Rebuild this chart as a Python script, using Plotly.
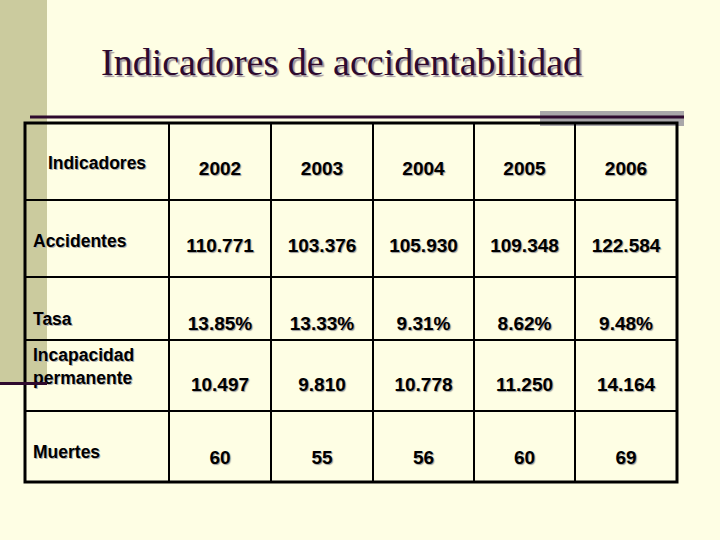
import plotly.graph_objects as go

# ---- data ----
years = ["2002", "2003", "2004", "2005", "2006"]
indicators = ["Accidentes", "Tasa", "Incapacidad<br>permanente", "Muertes"]
accidentes = [110771, 103376, 105930, 109348, 122584]
tasa = [13.85, 13.33, 9.31, 8.62, 9.48]
incapacidad = [10497, 9810, 10778, 11250, 14164]
muertes = [60, 55, 56, 60, 69]
header_label = "Indicadores"
title = "Indicadores de accidentabilidad"

def thousands(v):
    return f"{v:,}".replace(",", ".")

rows_text = [
    [thousands(v) for v in accidentes],
    [f"{v:.2f}%" for v in tasa],
    [thousands(v) for v in incapacidad],
    [str(v) for v in muertes],
]

# ---- layout (pixel space) ----
W, H = 720, 540
BG = "#FEFEE4"
KHAKI = "#CBCB9E"
PURPLE = "#2E0A2E"
col_edges = [25, 169, 271, 373, 474, 575, 677]
row_edges = [123, 200, 277, 340, 411, 482]
header_val_y = 170
header_lab_y = 165
row_val_y = [247, 325, 386, 459]
row_lab_y = [243, 321, 368, 454]
label_x = 33

col_centers = [(col_edges[i] + col_edges[i + 1]) / 2 for i in range(len(col_edges) - 1)]

fig = go.Figure()

val_font = dict(family="Liberation Sans, Arial", size=19, color="#000000",
                weight="bold", shadow="1px 1px 1px #9a9a9a")
lab_font = dict(family="Liberation Sans, Arial", size=17.5, color="#000000",
                weight="bold", shadow="1px 1px 0px #b0b0b0")

# header years
fig.add_trace(go.Scatter(
    x=col_centers[1:], y=[header_val_y] * len(years), mode="text",
    text=years, textposition="middle center", textfont=val_font,
    hoverinfo="skip", showlegend=False))
# header label
fig.add_trace(go.Scatter(
    x=[col_centers[0]], y=[header_lab_y], mode="text",
    text=[header_label], textposition="middle center", textfont=lab_font,
    hoverinfo="skip", showlegend=False))
# row labels
fig.add_trace(go.Scatter(
    x=[label_x] * len(indicators), y=row_lab_y, mode="text",
    text=indicators, textposition="middle right",
    textfont=lab_font, hoverinfo="skip", showlegend=False))
# values
for r, vals in enumerate(rows_text):
    fig.add_trace(go.Scatter(
        x=col_centers[1:], y=[row_val_y[r]] * len(vals), mode="text",
        text=vals, textposition="middle center", textfont=val_font,
        hoverinfo="skip", showlegend=False))

shapes = []
# khaki side bar
shapes.append(dict(type="rect", x0=0, x1=47, y0=0, y1=382, fillcolor=KHAKI,
                   line=dict(width=0), layer="below"))
# grey block at top right
shapes.append(dict(type="rect", x0=540, x1=684, y0=111, y1=126, fillcolor="#A9A7A9",
                   line=dict(width=0), layer="below"))
# top purple rule
shapes.append(dict(type="line", x0=30, x1=684, y0=117, y1=117,
                   line=dict(color=PURPLE, width=3)))
# table grid inner lines
for x in col_edges[1:-1]:
    shapes.append(dict(type="line", x0=x, x1=x, y0=row_edges[0], y1=row_edges[-1],
                       line=dict(color="#000000", width=2)))
for y in row_edges[1:-1]:
    shapes.append(dict(type="line", x0=col_edges[0], x1=col_edges[-1], y0=y, y1=y,
                       line=dict(color="#000000", width=2)))
# outer border
shapes.append(dict(type="rect", x0=col_edges[0], x1=col_edges[-1], y0=row_edges[0],
                   y1=row_edges[-1], line=dict(color="#000000", width=3)))
# bottom-left purple rule
shapes.append(dict(type="line", x0=0, x1=47, y0=383.5, y1=383.5,
                   line=dict(color=PURPLE, width=3)))

fig.update_layout(
    width=W, height=H,
    margin=dict(l=0, r=0, t=0, b=0),
    paper_bgcolor=BG, plot_bgcolor=BG,
    xaxis=dict(range=[0, W], visible=False, fixedrange=True),
    yaxis=dict(range=[H, 0], visible=False, fixedrange=True),
    shapes=shapes,
    annotations=[dict(
        x=341, y=62, xref="x", yref="y", text=title, showarrow=False,
        font=dict(family="Liberation Serif, Times New Roman", size=38, color="#2E0A2E",
                  shadow="2px 2px 1px #a096a0"),
        xanchor="center", yanchor="middle")],
)

fig.write_html(
    "out.html",
    config={"displayModeBar": False},
    post_script="document.body.style.margin='0';document.body.style.background='#FEFEE4';",
)
